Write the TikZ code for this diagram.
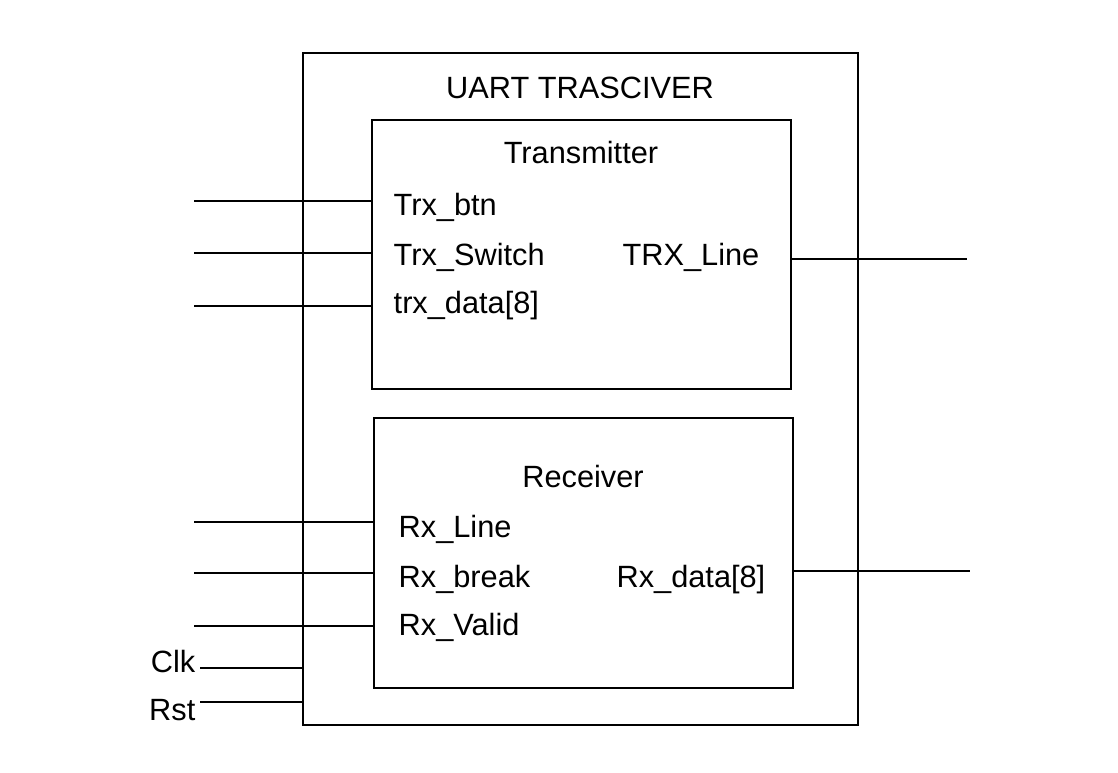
\documentclass[tikz,border=0pt]{standalone}
\usepackage{fontspec}
\setmainfont{Liberation Sans}
\begin{document}
\begin{tikzpicture}[x=0.02cm,y=-0.02cm,line width=0.8pt,line cap=rect,
  blk/.style={draw,line width=1pt,inner sep=0pt},
  sig/.style={font=\fontsize{17.5}{20}\selectfont,inner sep=0pt}]
 \useasboundingbox (0,0) rectangle (1118,772);
 % blocks
 \node[blk,minimum width=11.1cm,minimum height=13.44cm] (uart) at (580.5,389) {};
 \node[blk,minimum width=8.38cm,minimum height=5.38cm] (tx) at (581.5,254.5) {};
 \node[blk,minimum width=8.38cm,minimum height=5.4cm] (rx) at (583.5,553) {};
 \node[sig,anchor=base] (uartlbl) at (580,98) {UART TRASCIVER};
 \node[sig,anchor=base] (txlbl) at (581,163) {Transmitter};
 \node[sig,anchor=base] (rxlbl) at (583,487) {Receiver};
 % transmitter ports
 \foreach \y/\b/\name/\txt in {201/215/btn/Trx\_btn, 253/265/sw/Trx\_Switch, 306/313/data/trx\_data[8]} {
   \coordinate (tx-\name) at (195,\y);
   \node[sig,anchor=base west] (txl-\name) at (393,\b) {\txt};
   \draw (tx-\name) -- (tx-\name -| tx.west);
 }
 \coordinate (txout) at (966,259);
 \node[sig,anchor=base east] (txl-out) at (760,265) {TRX\_Line};
 \draw (tx.east |- txout) -- (txout);
 % receiver ports
 \foreach \y/\b/\name/\txt in {522/537/line/Rx\_Line, 573/587/brk/Rx\_break, 626/635/valid/Rx\_Valid} {
   \coordinate (rx-\name) at (195,\y);
   \node[sig,anchor=base west] (rxl-\name) at (398,\b) {\txt};
   \draw (rx-\name) -- (rx-\name -| rx.west);
 }
 \coordinate (rxout) at (969,571);
 \node[sig,anchor=base east] (rxl-out) at (766,587) {Rx\_data[8]};
 \draw (rx.east |- rxout) -- (rxout);
 % clock and reset
 \coordinate (clk) at (201,668);
 \coordinate (rst) at (201,702);
 \node[sig,anchor=base east] (clklbl) at (196,672) {Clk};
 \node[sig,anchor=base east] (rstlbl) at (196,720) {Rst};
 \draw (clk) -- (clk -| uart.west);
 \draw (rst) -- (rst -| uart.west);
\end{tikzpicture}
\end{document}
